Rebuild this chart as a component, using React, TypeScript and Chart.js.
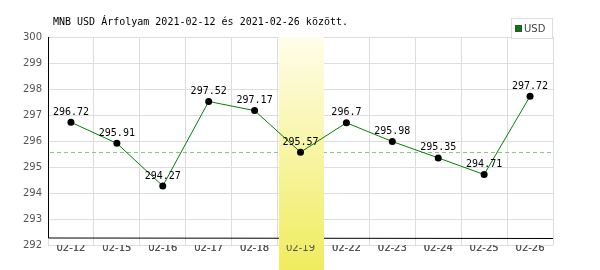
import React, { useEffect, useRef } from "react";
import { Chart, registerables } from "chart.js";

Chart.register(...registerables);

const categories = ["02-12", "02-15", "02-16", "02-17", "02-18", "02-19", "02-22", "02-23", "02-24", "02-25", "02-26"];
const usdValues = [296.72, 295.91, 294.27, 297.52, 297.17, 295.57, 296.7, 295.98, 295.35, 294.71, 297.72];
const referenceValue = 295.57;
const highlightIndex = 5;
const yMin = 292;
const yMax = 300;
const titleText = "MNB USD Árfolyam 2021-02-12 és 2021-02-26 között.";
const seriesName = "USD";

const overlayPlugin = {
  id: "overlay",
  beforeDatasetsDraw(chart: any) {
    const { ctx, chartArea } = chart;
    const x = chart.scales.x;
    const y = chart.scales.y;
    ctx.save();
    // axis lines
    ctx.strokeStyle = "#000";
    ctx.lineWidth = 1;
    ctx.beginPath();
    ctx.moveTo(chartArea.left + 0.5, chartArea.top);
    ctx.lineTo(chartArea.left + 0.5, chartArea.bottom - 7);
    ctx.lineTo(chartArea.right, chartArea.bottom - 7 + 0.5);
    ctx.stroke();
    // reference dashed line
    const ry = Math.round(y.getPixelForValue(referenceValue)) + 0.5;
    ctx.strokeStyle = "#7fcc7f";
    ctx.setLineDash([4, 3]);
    ctx.beginPath();
    ctx.moveTo(chartArea.left + 2, ry);
    ctx.lineTo(chartArea.right, ry);
    ctx.stroke();
    ctx.setLineDash([]);
    // highlight band
    const cw = (chartArea.right - chartArea.left) / categories.length;
    const cx = x.getPixelForValue(highlightIndex);
    const bx = Math.round(cx - cw / 2) + 1;
    const grad = ctx.createLinearGradient(0, chartArea.top, 0, chart.height);
    grad.addColorStop(0, "#fffdea");
    grad.addColorStop(1, "#f0ec5e");
    ctx.fillStyle = grad;
    ctx.fillRect(bx, chartArea.top, Math.round(cw) - 1, chart.height - chartArea.top);
    ctx.restore();
    x.drawLabels(chartArea);
  },
  afterDatasetsDraw(chart: any) {
    const { ctx } = chart;
    const meta = chart.getDatasetMeta(0);
    ctx.save();
    ctx.font = "10px 'DejaVu Sans Mono'";
    ctx.fillStyle = "#000";
    ctx.textAlign = "center";
    ctx.textBaseline = "bottom";
    meta.data.forEach((pt: any, i: number) => {
      ctx.fillText(String(usdValues[i]), pt.x, pt.y - 5);
    });
    ctx.restore();
  },
  afterDraw(chart: any) {
    const { ctx, chartArea } = chart;
    ctx.save();
    ctx.font = "10px 'DejaVu Sans Mono'";
    ctx.fillStyle = "#000";
    ctx.textAlign = "left";
    ctx.textBaseline = "middle";
    ctx.fillText(titleText, 53, 22);
    // legend box
    const lx = 511, ly = 18, lw = 41, lh = 20;
    ctx.fillStyle = "#fff";
    ctx.fillRect(lx, ly, lw, lh);
    ctx.strokeStyle = "#dddddd";
    ctx.strokeRect(lx + 0.5, ly + 0.5, lw, lh);
    ctx.fillStyle = "#008000";
    ctx.fillRect(516, 26, 6, 6);
    ctx.strokeStyle = "#444";
    ctx.strokeRect(515.5, 25.5, 6, 6);
    ctx.fillStyle = "#444";
    ctx.font = "10px 'DejaVu Sans'";
    ctx.fillText(seriesName, 524, 29);
    ctx.restore();
  },
};

export default function App() {
  const ref = useRef<HTMLCanvasElement>(null);
  useEffect(() => {
    document.body.style.margin = "0";
    const chart = new Chart(ref.current!, {
      type: "line",
      data: {
        labels: categories,
        datasets: [
          {
            label: seriesName,
            data: usdValues,
            borderColor: "#008000",
            borderWidth: 1,
            pointBackgroundColor: "#000",
            pointBorderColor: "#000",
            pointRadius: 3.5,
            pointBorderWidth: 0,
            tension: 0,
          },
        ],
      },
      options: {
        animation: false,
        responsive: false,
        layout: { padding: { top: 37, right: 47, left: 0, bottom: 0 } },
        plugins: { legend: { display: false }, title: { display: false }, tooltip: { enabled: false } },
        scales: {
          x: {
            offset: true,
            grid: { offset: true, color: "#dddddd", drawTicks: false },
            border: { display: false },
            ticks: { color: "#555", font: { family: "DejaVu Sans", size: 10 }, padding: -3, maxRotation: 0 },
            afterFit(s: any) { s.height = 25; },
          },
          y: {
            min: yMin,
            max: yMax,
            grid: { color: "#dddddd", drawTicks: false },
            border: { display: false },
            ticks: { stepSize: 1, color: "#555", font: { family: "DejaVu Sans", size: 10 }, padding: 6 },
            afterFit(s: any) { s.width = 48; },
          },
        },
      },
      plugins: [overlayPlugin],
    });
    return () => chart.destroy();
  }, []);
  return <canvas ref={ref} width={600} height={270} style={{ display: "block" }} />;
}
